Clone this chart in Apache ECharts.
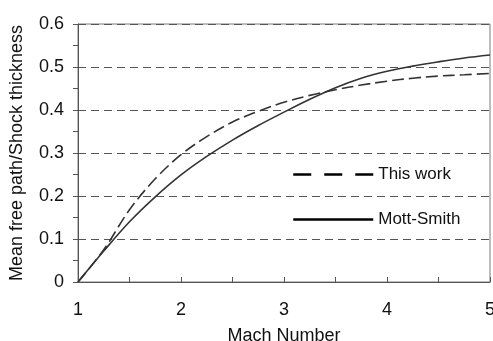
<!DOCTYPE html>
<html>
<head>
<meta charset="utf-8">
<script src="https://cdn.jsdelivr.net/npm/echarts@6/dist/echarts.min.js"></script>
<style>
html,body{margin:0;padding:0;background:#fff;}
#chart{width:493px;height:341px;}
</style>
</head>
<body>
<div id="chart"></div>
<script>
// Mach numbers
var machNumbers = [1, 1.25, 1.5, 1.75, 2, 2.25, 2.5, 2.75, 3, 3.25, 3.5, 3.75, 4, 4.25, 4.5, 4.75, 5];
// This work (dashed)
var thisWork = [0, 0.075, 0.168, 0.24, 0.296, 0.338, 0.372, 0.397, 0.418, 0.434, 0.447, 0.458, 0.467, 0.474, 0.479, 0.482, 0.485];
// Mott-Smith (solid)
var mottSmith = [0, 0.072, 0.14, 0.198, 0.249, 0.292, 0.33, 0.364, 0.395, 0.425, 0.452, 0.474, 0.49, 0.502, 0.512, 0.521, 0.528];

var fontName = 'Liberation Sans, Arial, sans-serif';

function pairs(ys) {
    var out = [];
    for (var i = 0; i < machNumbers.length; i++) {
        out.push([machNumbers[i], ys[i]]);
    }
    return out;
}

var myChart = echarts.init(document.getElementById('chart'));
myChart.setOption({
    animation: false,
    grid: {
        left: 78, right: 3, top: 24, bottom: 59,
        containLabel: false,
        outerBoundsMode: 'none',
        show: true,
        borderColor: '#7a7a7a',
        borderWidth: 1
    },
    legend: {
        orient: 'vertical',
        left: 287,
        top: 161,
        itemWidth: 80,
        itemHeight: 14,
        itemGap: 28,
        textStyle: { fontFamily: fontName, fontSize: 17, color: '#111' },
        data: [
            { name: 'This work', itemStyle: { opacity: 0 }, lineStyle: { type: [18, 13], width: 2.5, color: '#000' } },
            { name: 'Mott-Smith', itemStyle: { opacity: 0 }, lineStyle: { type: 'solid', width: 2.5, color: '#000' } }
        ]
    },
    xAxis: {
        type: 'value',
        min: 1, max: 5, interval: 1,
        name: 'Mach Number',
        nameLocation: 'middle',
        nameGap: 45,
        nameTextStyle: { fontFamily: fontName, fontSize: 18, color: '#111' },
        axisLine: { lineStyle: { color: '#555' } },
        axisTick: { inside: true, length: 5, lineStyle: { color: '#555' } },
        minorTick: { show: true, splitNumber: 2, length: 5, lineStyle: { color: '#555' } },
        axisLabel: { fontFamily: fontName, fontSize: 18, color: '#111', margin: 19 },
        splitLine: { show: false }
    },
    yAxis: {
        type: 'value',
        min: 0, max: 0.6, interval: 0.1,
        name: 'Mean free path/Shock thickness',
        nameLocation: 'middle',
        nameGap: 52,
        nameTextStyle: { fontFamily: fontName, fontSize: 18, color: '#111' },
        axisLine: { show: true, lineStyle: { color: '#555' } },
        axisTick: { show: true, length: 5, lineStyle: { color: '#555' } },
        minorTick: { show: true, splitNumber: 2, length: 5, lineStyle: { color: '#555' } },
        axisLabel: { fontFamily: fontName, fontSize: 18, color: '#111', margin: 14 },
        splitLine: { show: true, lineStyle: { color: '#555', type: [8, 5], width: 1 } }
    },
    series: [
        {
            name: 'This work',
            type: 'line',
            smooth: 0.35,
            symbol: 'none',
            data: pairs(thisWork),
            itemStyle: { color: '#333' },
            lineStyle: { color: '#333', width: 1.6, type: [12, 5] }
        },
        {
            name: 'Mott-Smith',
            type: 'line',
            smooth: 0.35,
            symbol: 'none',
            data: pairs(mottSmith),
            itemStyle: { color: '#333' },
            lineStyle: { color: '#333', width: 1.6, type: 'solid' }
        }
    ]
});
</script>
</body>
</html>
